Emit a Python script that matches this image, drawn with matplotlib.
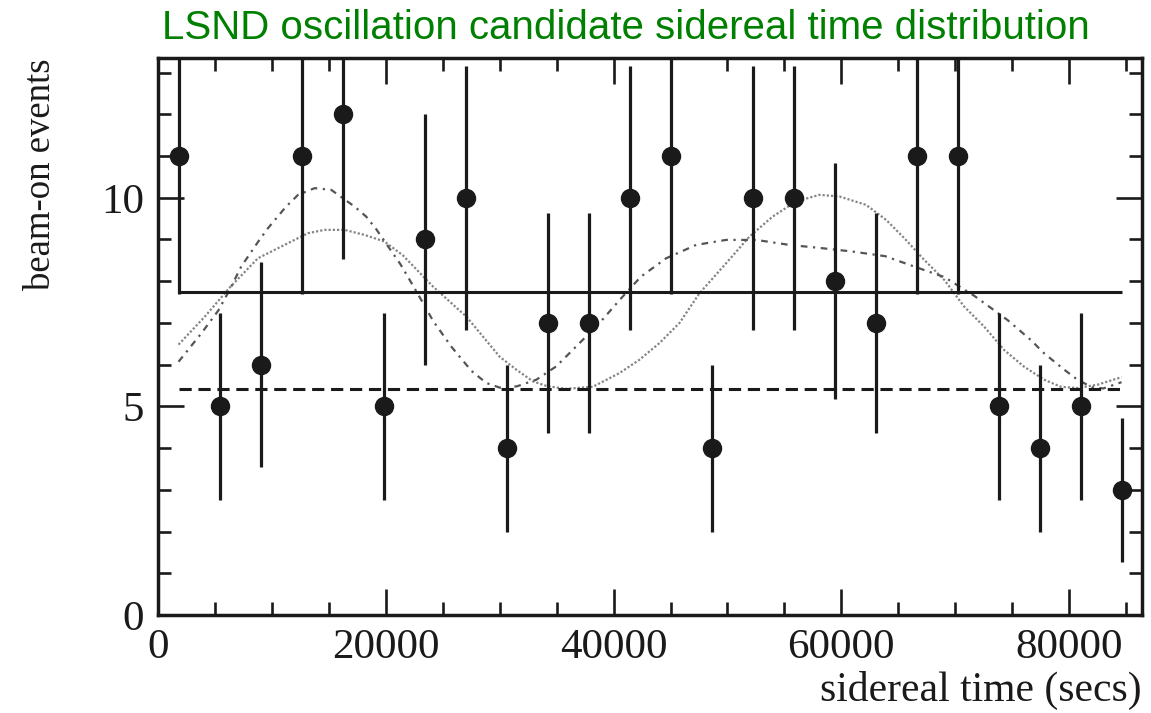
import numpy as np
import matplotlib
matplotlib.use("Agg")
import matplotlib.pyplot as plt

# hourly sidereal bins (bin centres, secs) and beam-on event counts
bin_centres = [1800, 5400, 9000, 12600, 16200, 19800, 23400, 27000, 30600, 34200,
               37800, 41400, 45000, 48600, 52200, 55800, 59400, 63000, 66600, 70200,
               73800, 77400, 81000, 84600]
counts = [11, 5, 6, 11, 12, 5, 9, 10, 4, 7, 7, 10, 11, 4, 10, 10, 8, 7, 11, 11, 5, 4, 5, 3]

flat_level = 7.75   # solid line (mean)
bkg_level = 5.42    # dashed line (background)

# dash-dot fit curve
fitA_t = [1800, 3800, 5300, 6300, 7300, 8800, 9650, 11250, 12300, 13750, 15200, 17250,
          18270, 19150, 21300, 22700, 24150, 25760, 27520, 28830, 30000, 31500, 33220,
          34970, 37020, 38770, 40530, 42400, 44620, 47250, 49880, 52510, 55440, 58360,
          61000, 63850, 66410, 69040, 71670, 74590, 76640, 77810, 79570, 80730, 82000,
          83000, 84600]
fitA_y = [6.07, 6.75, 7.3, 7.8, 8.35, 8.95, 9.27, 9.79, 10.07, 10.23, 10.19, 9.79,
          9.55, 9.25, 8.4, 7.75, 7.05, 6.43, 5.85, 5.56, 5.45, 5.48, 5.64,
          5.96, 6.52, 7.0, 7.55, 8.11, 8.55, 8.87, 8.99, 8.99, 8.87, 8.79,
          8.71, 8.6, 8.35, 8.1, 7.65, 7.07, 6.59, 6.27, 5.88, 5.64, 5.46,
          5.43, 5.58]

# dotted fit curve
fitB_t = [1800, 4100, 6300, 8770, 11110, 13160, 14620, 16380, 18130, 19890, 21500,
          24150, 27080, 30000, 31460, 32920, 34100, 35800, 38180, 40530, 42280, 44040,
          45790, 47540, 49880, 51930, 53970, 56020, 58070, 59830, 62170, 63930, 65530,
          67280, 69040, 70790, 72540, 74300, 76050, 77810, 79270, 80730, 82490, 84600]
fitB_y = [6.48, 7.15, 7.85, 8.55, 8.87, 9.15, 9.23, 9.23, 9.11, 8.95, 8.62,
          7.87, 7.15, 6.19, 5.88, 5.6, 5.49, 5.42, 5.47, 5.8, 6.12, 6.52,
          7.0, 7.71, 8.43, 9.07, 9.55, 9.91, 10.07, 10.03, 9.83, 9.47, 9.03,
          8.51, 8.03, 7.39, 6.91, 6.35, 5.95, 5.64, 5.47, 5.44, 5.52, 5.7]

x_major = [0, 20000, 40000, 60000, 80000]
y_major = [0, 5, 10]

plt.rcParams['font.family'] = ['Liberation Serif', 'DejaVu Serif']

fig = plt.figure(figsize=(11.51, 7.13), dpi=100)
ax = fig.add_axes([0.1373, 0.1374, 0.8549, 0.7813])

ax.plot(fitB_t, fitB_y, color='#858585', lw=1.6, linestyle=(0, (1, 0.9)))
ax.plot(fitA_t, fitA_y, color='#555555', lw=1.6, linestyle=(0, (3, 2.5, 1, 2.5)))
ax.hlines(flat_level, bin_centres[0], bin_centres[-1], color='#1a1a1a', lw=2.2)
ax.hlines(bkg_level, bin_centres[0], bin_centres[-1], color='#1a1a1a', lw=2.2,
          linestyle=(0, (4, 2.2)))
ax.errorbar(bin_centres, counts, yerr=np.sqrt(counts), fmt='o', color='#1a1a1a',
            ms=13, elinewidth=2.3, capsize=0)

ax.set_xlim(0, 86400)
ax.set_ylim(0, 13.35)
ax.set_xticks(x_major)
ax.set_yticks(y_major)
ax.set_xticks(np.arange(0, 86400, 5000), minor=True)
ax.set_yticks(np.arange(0, 13.5, 1), minor=True)
ax.tick_params(which='both', direction='in', top=True, right=True, width=1.9,
               colors='#1a1a1a', labelsize=31, labelcolor='#1a1a1a')
ax.tick_params(which='major', length=19, pad=10)
ax.tick_params(which='minor', length=9.5)
for s in ax.spines.values():
    s.set_linewidth(2.5)
    s.set_color('#1a1a1a')

ax.set_xlabel('sidereal time (secs)', fontsize=30, color='#1a1a1a')
ax.xaxis.set_label_coords(1.0, -0.1)
ax.xaxis.label.set_horizontalalignment('right')
ax.set_ylabel('beam-on events', fontsize=26.5, color='#1a1a1a')
ax.yaxis.set_label_coords(-0.137, 1.0)
ax.yaxis.label.set_verticalalignment('top')
ax.yaxis.label.set_horizontalalignment('right')

fig.text(0.544, 0.961, 'LSND oscillation candidate sidereal time distribution',
         family=['Liberation Sans'], fontsize=29,
         color='#008000', ha='center', va='center')

fig.savefig('out.png', dpi=100)
